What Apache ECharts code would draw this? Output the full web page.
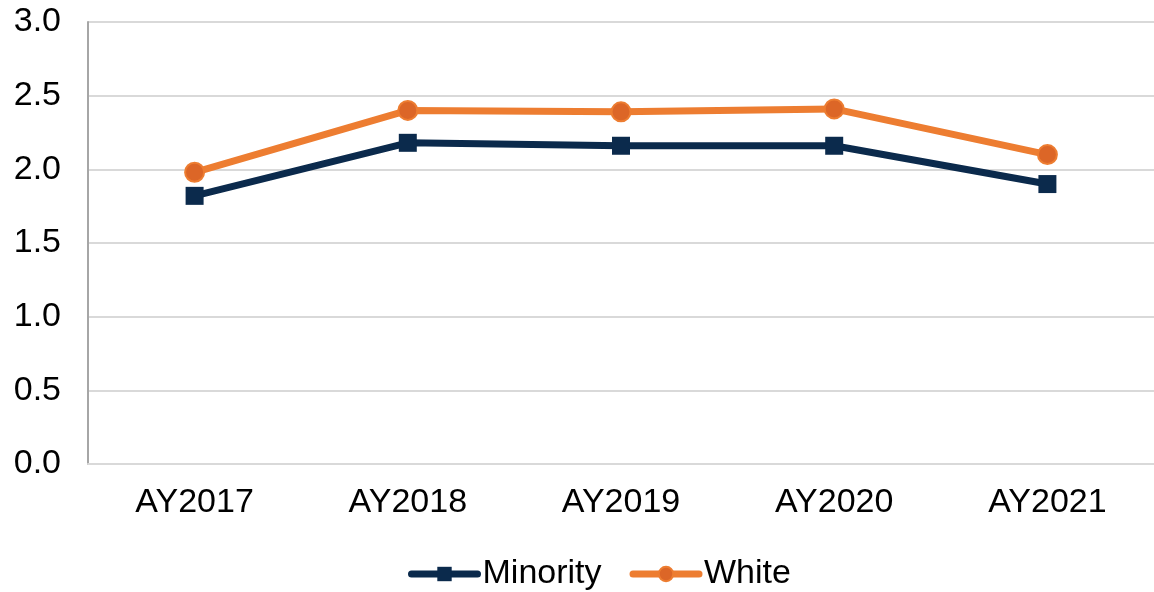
<!DOCTYPE html>
<html>
<head>
<meta charset="utf-8">
<script src="https://cdn.jsdelivr.net/npm/echarts@6/dist/echarts.min.js"></script>
<style>
  html, body { margin: 0; padding: 0; background: #fff; }
  #chart { width: 1154px; height: 592px; }
</style>
</head>
<body>
<div id="chart"></div>
<script>
  // academic years
  var years = ['AY2017', 'AY2018', 'AY2019', 'AY2020', 'AY2021'];
  // values
  var minority = [1.82, 2.18, 2.16, 2.16, 1.90];
  var white = [1.98, 2.40, 2.39, 2.41, 2.10];
  var yTicks = [0, 0.5, 1.0, 1.5, 2.0, 2.5, 3.0];

  var chart = echarts.init(document.getElementById('chart'));
  var font = 'Liberation Sans, Arial, sans-serif';

  chart.setOption({
    animation: false,
    grid: { left: 88, right: -6, top: 22, bottom: 128, containLabel: false },
    legend: {
      top: 552,
      left: 403,
      itemWidth: 66,
      itemHeight: 18,
      itemGap: 28,
      lineStyle: { width: 7, cap: 'round' },
      textStyle: { fontFamily: font, fontSize: 34, color: '#000', padding: [0, 0, 0, 0] },
      data: ['Minority', 'White']
    },
    xAxis: {
      type: 'category',
      data: years,
      boundaryGap: true,
      axisLine: { lineStyle: { color: '#d9d9d9', width: 2 } },
      axisTick: { show: false },
      axisLabel: { fontFamily: font, fontSize: 34, color: '#000', margin: 22 }
    },
    yAxis: {
      type: 'value',
      min: yTicks[0],
      max: yTicks[yTicks.length - 1],
      interval: 0.5,
      axisLine: { show: true, lineStyle: { color: '#a6a6a6', width: 2 } },
      axisTick: { show: false },
      splitLine: { lineStyle: { color: '#d9d9d9', width: 2 } },
      axisLabel: {
        fontFamily: font, fontSize: 34, color: '#000', margin: 27,
        formatter: function (v) { return v.toFixed(1); }
      }
    },
    series: [
      {
        name: 'Minority',
        type: 'line',
        data: minority,
        symbol: 'rect',
        symbolSize: 18,
        lineStyle: { color: '#0b2a4c', width: 7 },
        itemStyle: { color: '#0b2a4c' },
        z: 2
      },
      {
        name: 'White',
        type: 'line',
        data: white,
        symbol: 'circle',
        symbolSize: 19,
        lineStyle: { color: '#ed7d31', width: 7 },
        itemStyle: { color: '#dc6627', borderColor: '#ed7d31', borderWidth: 2 },
        z: 3
      }
    ]
  });
</script>
</body>
</html>
